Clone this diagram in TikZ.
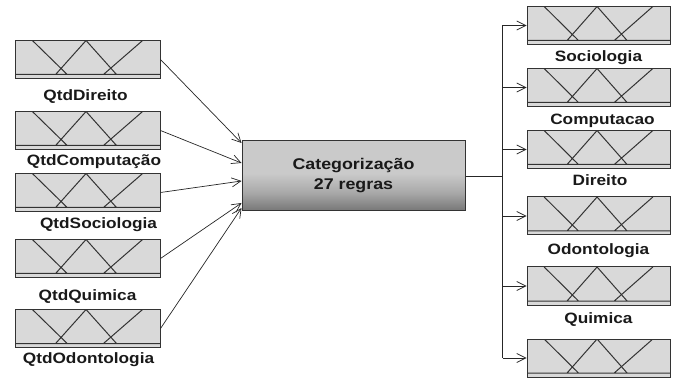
\documentclass[tikz,border=0pt]{standalone}
\usepackage{fontspec}
\setsansfont[FakeStretch=1.15]{Liberation Sans}
\usetikzlibrary{positioning, calc, arrows.meta}
\definecolor{boxfill}{HTML}{D9D9D9}
\definecolor{boxline}{HTML}{333333}
\definecolor{catlight}{HTML}{CACACA}
\definecolor{catmid}{HTML}{A8A8A8}
\definecolor{catdark}{HTML}{767676}
% light top half, darker towards the bottom
\pgfdeclareverticalshading{catshade}{100bp}{color(0bp)=(catdark); color(25bp)=(catdark);
  color(38bp)=(catmid); color(52bp)=(catlight); color(100bp)=(catlight)}
\tikzset{
>={Straight Barb[length=9pt,width=9pt]}, % open arrow heads
link/.style={line width=0.7pt, black!85}, % the connectors
mfbox/.style={draw=boxline, fill=boxfill, line width=1pt, minimum width=145pt, minimum height=38pt, inner sep=0pt,
  path picture={
    \draw[boxline, line width=1pt]
      let \p1=(path picture bounding box.south west),
          \p2=(path picture bounding box.north east),
          \n1={\x2-\x1} in
      (\x1,\y1+4pt) -- (\x2,\y1+4pt)
      (\x1+0.12*\n1,\y2) -- (\x1+0.36*\n1,\y1+4pt)
      (\x1+0.28*\n1,\y1+4pt) -- (\x1+0.49*\n1,\y2) -- (\x1+0.70*\n1,\y1+4pt)
      (\x1+0.61*\n1,\y1+4pt) -- (\x1+0.88*\n1,\y2);
  }}, % box with the membership functions
outbox/.style={mfbox, minimum width=143pt},
catbox/.style={draw=boxline, line width=1pt, minimum width=223pt, minimum height=70pt,
  shading=catshade, align=center, text=black!90,
  font={\sffamily\bfseries\fontsize{15.5}{20}\selectfont}},
lbl/.style={font={\sffamily\bfseries\fontsize{15}{18}\selectfont}, text=black!90, inner sep=0pt, anchor=base},
}

\begin{document}
\begin{tikzpicture}[x=1pt, y=-1pt]
  \useasboundingbox (0,0) rectangle (677,379);

  % inputs
  \node[mfbox] (in1) at (87.5,59.5) {};
  \node[mfbox] (in2) at (87.5,130.5) {};
  \node[mfbox] (in3) at (87.5,192.5) {};
  \node[mfbox] (in4) at (87.5,258.5) {};
  \node[mfbox] (in5) at (87.5,328.5) {};

  \node[lbl] (lin1) at ([xshift=-2pt,yshift=-21.5pt]in1.south) {QtdDireito};
  \node[lbl] (lin2) at ([xshift=6.5pt,yshift=-15.5pt]in2.south) {QtdComputação};
  \node[lbl] (lin3) at ([xshift=11pt,yshift=-16.5pt]in3.south) {QtdSociologia};
  \node[lbl] (lin4) at ([yshift=-22.5pt]in4.south) {QtdQuimica};
  \node[lbl] (lin5) at ([xshift=1pt,yshift=-15.5pt]in5.south) {QtdOdontologia};

  % rules
  \node[catbox] (cat) at (353.5,176) {Categorização\\27 regras};

  % outputs
  \node[outbox] (out1) at (598.5,25.5) {};
  \node[outbox] (out2) at (598.5,87.5) {};
  \node[outbox] (out3) at (598.5,149.5) {};
  \node[outbox] (out4) at (598.5,216) {};
  \node[outbox] (out5) at (598.5,286) {};
  \node[outbox] (out6) at (598.5,358) {};

  \node[lbl] (lout1) at ([yshift=-16.5pt]out1.south) {Sociologia};
  \node[lbl] (lout2) at ([xshift=4pt,yshift=-17.5pt]out2.south) {Computacao};
  \node[lbl] (lout3) at ([xshift=1.5pt,yshift=-16.5pt]out3.south) {Direito};
  \node[lbl] (lout4) at ([yshift=-19pt]out4.south) {Odontologia};
  \node[lbl] (lout5) at ([yshift=-18pt]out5.south) {Quimica};

  % input connectors
  \draw[link,->] (in1.east) -- ([yshift=33pt]cat.west);
  \draw[link,->] (in2.east) -- ([yshift=13pt]cat.west);
  \draw[link,->] (in3.east) -- ([yshift=-5pt]cat.west);
  \draw[link,->] (in4.east) -- ([yshift=-27pt]cat.west);
  \draw[link,->] (in5.east) -- ([yshift=-32pt]cat.west);

  % output bus
  \coordinate (bus) at ([xshift=37pt]cat.east);
  \draw[link] (cat.east) -- (bus);
  \draw[link] (bus |- out1.west) -- (bus |- out6.west);
  \foreach \i in {1,...,6}
    \draw[link,->] (bus |- out\i.west) -- (out\i.west);
\end{tikzpicture}
\end{document}
